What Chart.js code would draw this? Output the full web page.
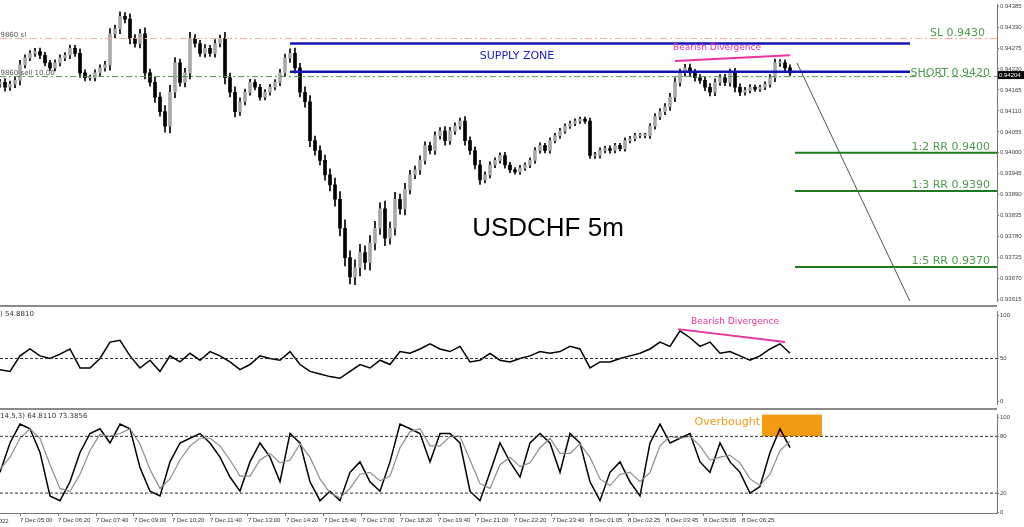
<!DOCTYPE html>
<html>
<head>
<meta charset="utf-8">
<script src="https://cdn.jsdelivr.net/npm/chart.js@4.4.1/dist/chart.umd.min.js"></script>
<style>
  html, body { margin: 0; padding: 0; background: #fff; }
  #wrap { position: relative; width: 1024px; height: 527px; overflow: hidden; }
  canvas { position: absolute; left: 0; }
  .sep { position: absolute; left: 0; width: 997px; height: 2px; background: #8a8a8a; }
</style>
</head>
<body>
<div id="wrap">
  <canvas id="priceChart" width="1024" height="306" style="top:0"></canvas>
  <div class="sep" style="top:305px"></div>
  <canvas id="rsiChart" width="1024" height="102" style="top:307px"></canvas>
  <div class="sep" style="top:408px"></div>
  <canvas id="stochChart" width="1024" height="117" style="top:410px"></canvas>
</div>
<script>
/* ── Data (one candle every 5 px slot) ───────────────── */
const closes = [
  0.94185,0.94172,0.94180,0.94190,0.94231,0.94249,0.94261,0.94266,0.94256,0.94236,
  0.94223,0.94236,0.94249,0.94256,0.94274,0.94261,0.94210,0.94197,0.94197,0.94210,
  0.94223,0.94231,0.94312,0.94325,0.94358,0.94351,0.94300,0.94287,0.94312,0.94210,
  0.94185,0.94146,0.94108,0.94070,0.94159,0.94236,0.94185,0.94210,0.94300,0.94287,
  0.94261,0.94274,0.94261,0.94287,0.94300,0.94197,0.94159,0.94108,0.94134,0.94159,
  0.94185,0.94172,0.94146,0.94159,0.94172,0.94185,0.94210,0.94249,0.94261,0.94223,
  0.94159,0.94134,0.94032,0.94006,0.93980,0.93942,0.93916,0.93878,0.93802,0.93725,
  0.93674,0.93699,0.93738,0.93712,0.93763,0.93802,0.93853,0.93776,0.93802,0.93878,
  0.93853,0.93904,0.93942,0.93955,0.93980,0.94019,0.94006,0.94045,0.94057,0.94032,
  0.94057,0.94070,0.94083,0.94032,0.94006,0.93968,0.93929,0.93942,0.93968,0.93980,
  0.93993,0.93968,0.93955,0.93950,0.93960,0.93968,0.93980,0.94006,0.94019,0.94006,
  0.94032,0.94045,0.94057,0.94070,0.94077,0.94083,0.94088,0.94083,0.93993,0.93993,
  0.94006,0.94011,0.94006,0.94019,0.94011,0.94032,0.94037,0.94045,0.94045,0.94045,
  0.94070,0.94095,0.94108,0.94121,0.94146,0.94185,0.94210,0.94223,0.94210,0.94197,
  0.94190,0.94172,0.94159,0.94185,0.94197,0.94185,0.94210,0.94172,0.94159,0.94164,
  0.94172,0.94167,0.94172,0.94180,0.94197,0.94236,0.94236,0.94223,0.94210
];
const firstOpen = 0.94180;
// wick extent per candle, in points (1e-5)
const wickPts = [
  8,10,8,9,12,8,7,8,9,8, 7,8,8,7,9,8,12,8,7,8, 8,9,14,10,12,10,14,10,12,16,
  10,14,12,16,18,14,10,12,16,10, 8,10,8,10,9,16,12,14,10,8, 8,7,8,7,8,7,9,10,12,14,
  12,14,16,12,12,14,16,18,20,22, 18,20,22,18,20,18,16,20,16,18, 14,16,12,10,12,10,9,10,9,12,
  10,9,8,12,10,10,12,8,8,7, 7,8,7,6,7,6,7,8,7,6, 7,6,7,6,6,6,6,6,8,8,
  7,6,7,6,6,7,6,6,6,6, 7,8,8,8,10,12,10,9,10,9, 8,9,10,9,8,9,10,12,9,8,
  7,6,6,6,8,10,9,8,8
];
const rsiValues = [
  37,35,53,61,53,50,55,61,39,39, 50,69,71,53,39,48,35,53,46,56,
  48,58,53,46,37,43,53,50,48,58, 43,35,32,29,27,35,43,39,48,43,
  58,56,61,67,61,58,64,46,48,56, 48,46,50,53,58,56,58,64,61,39,
  46,46,50,53,56,61,69,64,82,74, 64,69,56,58,53,48,53,61,67,56
];
const stochMain = [
  42,73,93,88,63,17,12,32,63,83, 88,73,93,88,47,22,17,53,73,78,
  83,73,58,37,22,53,73,58,32,83, 73,32,12,22,12,42,53,32,22,53,
  93,88,83,53,83,83,73,22,12,42, 73,53,37,73,83,73,42,83,73,32,
  12,42,53,32,17,73,93,73,78,83, 53,42,73,53,42,20,27,63,88,68
];
const stochSignal = [
  45,58,78,88,78,50,25,22,40,65, 82,80,83,88,72,45,25,35,55,70,
  78,78,70,55,38,38,55,62,52,55, 72,58,35,20,15,25,40,42,33,38,
  68,85,88,70,70,80,80,55,30,25, 50,58,48,52,68,78,62,62,72,58,
  35,28,40,42,32,42,70,80,78,80, 70,55,58,60,52,35,28,40,65,75
];
const priceTicks = [0.94385,0.94330,0.94275,0.94220,0.94165,0.94110,0.94055,0.94000,
                    0.93945,0.93890,0.93835,0.93780,0.93725,0.93670,0.93615];
const timeLabels = ["7 Dec 05:00","7 Dec 06:20","7 Dec 07:40","7 Dec 09:00","7 Dec 10:20",
  "7 Dec 11:40","7 Dec 13:00","7 Dec 14:20","7 Dec 15:40","7 Dec 17:00","7 Dec 18:20",
  "7 Dec 19:40","7 Dec 21:00","7 Dec 22:20","7 Dec 23:40","8 Dec 01:05","8 Dec 02:25",
  "8 Dec 03:45","8 Dec 05:05","8 Dec 06:25"];

// trade levels
const SL_LEVEL = 0.9430, SHORT_LEVEL = 0.9420;
const SUPPLY_TOP = 0.94287, SUPPLY_BOTTOM = 0.94213;
const targets = [{ label: "1:2 RR 0.9400", value: 0.9400 },
                 { label: "1:3 RR 0.9390", value: 0.9390 },
                 { label: "1:5 RR 0.9370", value: 0.9370 }];
const LAST_PRICE = 0.94204;

const X_MAX = 199.4;        // 997 px / 5 px per slot
const FONT = "Tahoma, 'DejaVu Sans', sans-serif";
const SMALL = "'Liberation Sans', Arial, sans-serif";
const AXIS_W = 27;

Chart.defaults.font.family = SMALL;
Chart.defaults.animation = false;
Chart.defaults.devicePixelRatio = 1;

/* ── Helpers ────────────────────────────────────────── */
function levelLine(x0, x1, y, color, width, dash) {
  return {
    type: "line", data: [{ x: x0, y }, { x: x1, y }],
    borderColor: color, borderWidth: width, borderDash: dash || [],
    pointRadius: 0, fill: false, order: 0
  };
}

function rightAxis(min, max, values, fmt) {
  return {
    position: "right", min, max,
    afterFit: s => { s.width = AXIS_W; },
    afterBuildTicks: s => { s.ticks = values.map(v => ({ value: v })); },
    ticks: { color: "#444", font: { size: 6 }, padding: 1, callback: fmt },
    grid: { drawOnChartArea: false, tickLength: 2, color: "#777" },
    border: { color: "#777", width: 1 }
  };
}

const hiddenX = { type: "linear", min: 0, max: X_MAX, offset: false, display: false };

function textPlugin(draw) {
  return { id: "texts", afterDatasetsDraw: (chart) => {
    const { ctx, scales } = chart;
    ctx.save();
    draw(ctx, scales.x, scales.y);
    ctx.restore();
  }};
}

/* ── Price panel ───────────────────────────────────── */
const opens  = closes.map((c, i) => i === 0 ? firstOpen : closes[i - 1]);
const wicks  = closes.map((c, i) => ({
  x: i,
  y: [Math.min(opens[i], c) - wickPts[i] * 1e-5, Math.max(opens[i], c) + wickPts[i] * 1e-5]
}));
const bodies = closes.map((c, i) => ({ x: i, y: [opens[i], c] }));
const bodyColors = closes.map((c, i) => c >= opens[i] ? "#a8a8a8" : "#000");

new Chart(document.getElementById("priceChart"), {
  data: {
    datasets: [
      levelLine(0, X_MAX, SL_LEVEL, "#f2b08c", 1, [7, 3, 2, 3]),
      levelLine(0, X_MAX, SHORT_LEVEL, "#4e9a4e", 1, [6, 3, 2, 3]),
      levelLine(58, 182, SUPPLY_TOP, "#1414b4", 2.5),
      levelLine(58, 182, SUPPLY_BOTTOM, "#1414b4", 2.5),
      ...targets.map(t => levelLine(159, X_MAX, t.value, "#1f7a1f", 2)),
      { type: "line", data: [{ x: 135, y: 0.94241 }, { x: 158, y: 0.94256 }],
        borderColor: "#e8349c", borderWidth: 2, pointRadius: 0, order: 0 },
      { type: "line", data: [{ x: 159.4, y: 0.94236 }, { x: 182, y: 0.93610 }],
        borderColor: "#555", borderWidth: 1, pointRadius: 0, order: 0 },
      { type: "bar", data: wicks, backgroundColor: "#000", barThickness: 1,
        grouped: false, order: 2 },
      { type: "bar", data: bodies, backgroundColor: bodyColors, borderColor: "#000",
        borderWidth: 0, barThickness: 3, minBarLength: 1, grouped: false, order: 1 }
    ]
  },
  options: {
    responsive: false,
    layout: { padding: 0 },
    plugins: { legend: { display: false }, tooltip: { enabled: false } },
    scales: {
      x: hiddenX,
      y: rightAxis(0.93610, 0.94389, priceTicks, v => v.toFixed(5))
    }
  },
  plugins: [textPlugin((ctx, x, y) => {
    ctx.textBaseline = "alphabetic";
    ctx.fillStyle = "#4e9a4e";
    ctx.font = `11px ${FONT}`;
    ctx.textAlign = "right";
    ctx.fillText("SL 0.9430", 985, y.getPixelForValue(SL_LEVEL) - 3);
    ctx.fillText("SHORT 0.9420", 990, y.getPixelForValue(SHORT_LEVEL) - 1);
    targets.forEach(t => ctx.fillText(t.label, 990, y.getPixelForValue(t.value) - 3));

    ctx.textAlign = "left";
    ctx.fillStyle = "#555";
    ctx.font = `7px ${FONT}`;
    ctx.fillText("19860 sl", -4, y.getPixelForValue(SL_LEVEL) - 2);
    ctx.fillText("19860 sell 10.00", -4, y.getPixelForValue(SHORT_LEVEL) - 2);

    ctx.textAlign = "center";
    ctx.fillStyle = "#2020d0";
    ctx.font = `11px ${FONT}`;
    ctx.fillText("SUPPLY ZONE", 517, 59);
    ctx.fillStyle = "#e8349c";
    ctx.font = `9px ${FONT}`;
    ctx.fillText("Bearish Divergence", 717, 50);
    ctx.fillStyle = "#000";
    ctx.font = `26px Arial, 'Liberation Sans', sans-serif`;
    ctx.fillText("USDCHF 5m", 548, 236);

    // current price tag
    const py = y.getPixelForValue(LAST_PRICE);
    ctx.fillStyle = "#000";
    ctx.fillRect(998, py - 4, 26, 8);
    ctx.fillStyle = "#fff";
    ctx.font = `6px ${SMALL}`;
    ctx.textAlign = "left";
    ctx.textBaseline = "middle";
    ctx.fillText(LAST_PRICE.toFixed(5), 999, py);
  })]
});

/* ── RSI panel ─────────────────────────────────────── */
new Chart(document.getElementById("rsiChart"), {
  data: {
    datasets: [
      levelLine(0, X_MAX, 50, "#333", 1, [3, 2]),
      { type: "line", data: [{ x: 135.6, y: 84 }, { x: 157, y: 69 }],
        borderColor: "#e8349c", borderWidth: 2, pointRadius: 0 },
      { type: "line", data: rsiValues.map((v, i) => ({ x: i * 2, y: v })),
        borderColor: "#000", borderWidth: 1.5, pointRadius: 0, tension: 0 }
    ]
  },
  options: {
    responsive: false,
    layout: { padding: 0 },
    plugins: { legend: { display: false }, tooltip: { enabled: false } },
    scales: { x: hiddenX, y: rightAxis(-3.2, 104.3, [0, 50, 100], v => v) }
  },
  plugins: [textPlugin((ctx) => {
    ctx.fillStyle = "#333";
    ctx.font = `7px ${FONT}`;
    ctx.textAlign = "left";
    ctx.fillText(") 54.8810", 0, 9);
    ctx.fillStyle = "#e8349c";
    ctx.font = `9px ${FONT}`;
    ctx.textAlign = "center";
    ctx.fillText("Bearish Divergence", 735, 17);
  })]
});

/* ── Stochastic panel ──────────────────────────────── */
new Chart(document.getElementById("stochChart"), {
  data: {
    datasets: [
      levelLine(0, X_MAX, 80, "#333", 1, [3, 2]),
      levelLine(0, X_MAX, 20, "#333", 1, [3, 2]),
      { type: "line", data: stochSignal.map((v, i) => ({ x: i * 2, y: v })),
        borderColor: "#8c8c8c", borderWidth: 1.2, pointRadius: 0 },
      { type: "line", data: stochMain.map((v, i) => ({ x: i * 2, y: v })),
        borderColor: "#000", borderWidth: 1.5, pointRadius: 0 }
    ]
  },
  options: {
    responsive: false,
    layout: { padding: 0 },
    plugins: { legend: { display: false }, tooltip: { enabled: false } },
    scales: {
      x: {
        type: "linear", min: 0, max: X_MAX, offset: false,
        afterFit: s => { s.height = 14; },
        afterBuildTicks: s => { s.ticks = timeLabels.map((t, k) => ({ value: 4 + 7.6 * k })); },
        ticks: {
          color: "#333", font: { size: 6 }, maxRotation: 0, autoSkip: false, align: "start",
          padding: 1, callback: (v, i) => timeLabels[i]
        },
        grid: { drawOnChartArea: false, tickLength: 3, color: "#777" },
        border: { color: "#777" }
      },
      y: rightAxis(-1, 103, [0, 20, 80, 100], v => v)
    }
  },
  plugins: [{
    id: "overbought",
    beforeDatasetsDraw: (chart) => {
      const { ctx, scales: { x, y } } = chart;
      ctx.save();
      ctx.fillStyle = "#f39a13";
      const x0 = x.getPixelForValue(152.4), x1 = x.getPixelForValue(164.4);
      const y0 = y.getPixelForValue(103), y1 = y.getPixelForValue(80);
      ctx.fillRect(x0, y0, x1 - x0, y1 - y0);
      ctx.restore();
    }
  }, textPlugin((ctx) => {
    ctx.fillStyle = "#333";
    ctx.font = `7px ${FONT}`;
    ctx.textAlign = "left";
    ctx.fillText("14,5,3) 64.8110 73.3856", 0, 8);
    ctx.font = `6px ${SMALL}`;
    ctx.fillText("7 Dec 2022", -22, 113);
    ctx.fillStyle = "#f39a13";
    ctx.font = `11px ${FONT}`;
    ctx.textAlign = "right";
    ctx.fillText("Overbought", 760, 15);
  })]
});
</script>
</body>
</html>
